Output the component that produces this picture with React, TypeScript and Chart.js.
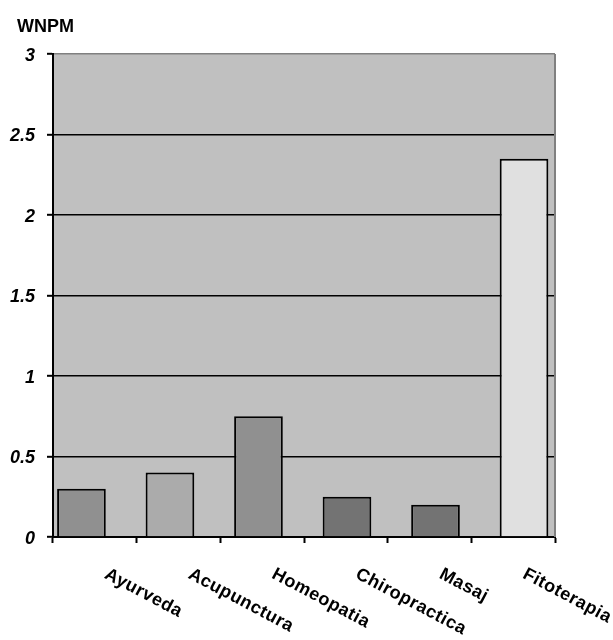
import React, { useEffect, useRef } from "react";
import { Chart, registerables } from "chart.js";

Chart.register(...registerables);

const categories = ["Ayurveda", "Acupunctura", "Homeopatia", "Chiropractica", "Masaj", "Fitoterapia"];
const values = [0.3, 0.4, 0.75, 0.25, 0.2, 2.35];
const barColors = ["#909090", "#ababab", "#909090", "#737373", "#737373", "#e0e0e0"];
const yTitle = "WNPM";

const FONT = "'Liberation Sans', Arial, sans-serif";

const decorPlugin = {
  id: "decor",
  beforeDraw(chart: any) {
    const { ctx, chartArea: a } = chart;
    ctx.save();
    ctx.fillStyle = "#c0c0c0";
    ctx.fillRect(a.left, a.top, a.right - a.left, a.bottom - a.top);
    ctx.restore();
  },
  beforeDatasetsDraw(chart: any) {
    const { ctx, chartArea: a } = chart;
    ctx.save();
    ctx.strokeStyle = "#808080";
    ctx.lineWidth = 2;
    ctx.beginPath();
    ctx.moveTo(a.right, a.top);
    ctx.lineTo(a.right, a.bottom);
    ctx.stroke();
    ctx.restore();
  },
  afterDraw(chart: any) {
    const { ctx } = chart;
    const xs = chart.scales.x;
    ctx.save();
    ctx.fillStyle = "#000";
    ctx.font = `bold 18px ${FONT}`;
    ctx.textAlign = "left";
    ctx.textBaseline = "alphabetic";
    ctx.fillText(yTitle, 17, 31.5);
    ctx.font = `bold 18px ${FONT}`;
    (ctx as any).letterSpacing = "0.5px";
    ctx.textBaseline = "middle";
    const labels: string[] = chart.data.labels;
    labels.forEach((lab, i) => {
      const cx = xs.getPixelForTick(i);
      ctx.save();
      ctx.translate(cx + 11, 573);
      ctx.rotate((28 * Math.PI) / 180);
      ctx.fillText(lab, 0, 0);
      ctx.restore();
    });
    ctx.restore();
  },
};

export default function App() {
  const ref = useRef<HTMLCanvasElement | null>(null);
  useEffect(() => {
    if (!ref.current) return;
    const chart = new Chart(ref.current, {
      type: "bar",
      data: {
        labels: categories,
        datasets: [
          {
            data: values.map((v, i) => ({ x: i, y: v })) as any,
            backgroundColor: barColors,
            borderColor: "#000",
            borderWidth: 2,
            barPercentage: 0.55,
            categoryPercentage: 1,
            xAxisID: "xb",
          },
        ],
      },
      options: {
        animation: false,
        responsive: false,
        layout: { padding: { top: 54, right: 58, bottom: 0, left: 0 } },
        plugins: { legend: { display: false }, tooltip: { enabled: false }, title: { display: false } },
        scales: {
          x: {
            type: "category",
            offset: true,
            grid: {
              offset: true,
              drawOnChartArea: false,
              drawTicks: true,
              tickLength: 6,
              tickColor: "#000",
              tickWidth: 2,
            },
            border: { color: "#000", width: 2 },
            ticks: { display: false },
            afterFit: (s: any) => {
              s.height = 103;
            },
          },
          xb: {
            type: "linear",
            display: false,
            offset: false,
            grid: { offset: false },
            min: -0.3213,
            max: 5.35,
          },
          y: {
            min: 0,
            max: 3,
            ticks: {
              stepSize: 0.5,
              color: "#000",
              padding: 12,
              labelOffset: 2,
              font: { family: FONT, size: 18, weight: "bold", style: "italic" },
              callback: (v: any) => String(v),
            },
            grid: {
              color: (c: any) => (c.tick && c.tick.value === 3 ? "#808080" : "#000"),
              lineWidth: 1.6,
              tickLength: 6,
              tickColor: "#000",
              tickWidth: 2,
            },
            border: { color: "#000", width: 2 },
            afterFit: (s: any) => {
              s.width = 53;
            },
          },
        },
      },
      plugins: [decorPlugin],
    });
    return () => chart.destroy();
  }, []);
  return (
    <div style={{ position: "absolute", left: 0, top: 0, width: 613, height: 640, background: "#fff" }}>
      <canvas ref={ref} width={613} height={640} />
    </div>
  );
}
